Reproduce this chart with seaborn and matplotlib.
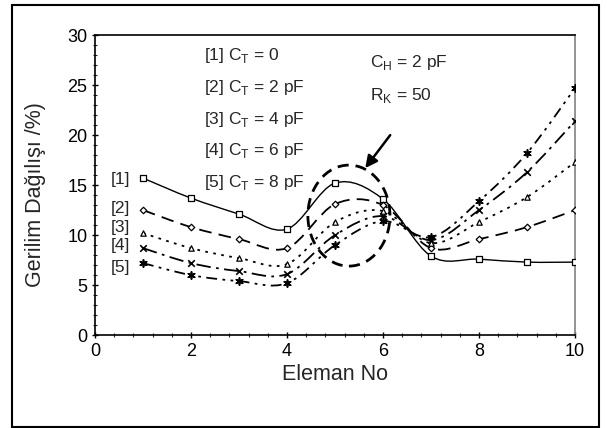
import numpy as np
import matplotlib
matplotlib.use("Agg")
import matplotlib.pyplot as plt
import seaborn as sns
from matplotlib.path import Path
from matplotlib.patches import PathPatch, Ellipse, Rectangle

# values
eleman = [1, 2, 3, 4, 5, 6, 7, 8, 9, 10]
ct0 = [15.7, 13.7, 12.1, 10.6, 15.2, 13.6, 7.9, 7.6, 7.3, 7.3]
ct2 = [12.5, 10.8, 9.6, 8.7, 13.1, 13.0, 8.7, 9.6, 10.8, 12.5]
ct4 = [10.2, 8.7, 7.7, 7.1, 11.3, 12.4, 9.2, 11.3, 13.8, 17.3]
ct6 = [8.7, 7.2, 6.4, 6.1, 10.0, 11.9, 9.5, 12.5, 16.3, 21.4]
ct8 = [7.2, 6.0, 5.4, 5.2, 9.0, 11.4, 9.8, 13.4, 18.2, 24.7]

series = [ct0, ct2, ct4, ct6, ct8]
tags = ["[1]", "[2]", "[3]", "[4]", "[5]"]
legend_lines = [r"[1] C$_\mathregular{T}$ = 0", r"[2] C$_\mathregular{T}$ = 2 pF",
                r"[3] C$_\mathregular{T}$ = 4 pF", r"[4] C$_\mathregular{T}$ = 6 pF",
                r"[5] C$_\mathregular{T}$ = 8 pF"]

markers = ["s", "D", "^", "x", (6, 2, 0)]
msizes = [16, 11, 15, 22, 26]
dashes = [None, (7, 4), (1.5, 3), (8, 3, 1.5, 3), (6, 3, 1.5, 3, 1.5, 3)]

sns.set_theme(style="white")
plt.rcParams["font.family"] = ["Liberation Sans", "DejaVu Sans"]
plt.rcParams["mathtext.fontset"] = "custom"
plt.rcParams["mathtext.rm"] = "Liberation Sans"

fig = plt.figure(figsize=(6.07, 4.28), dpi=100)
ax = fig.add_axes([0.1565, 0.217, 0.7908, 0.701])


def smooth_path(x, y):
    # Excel-style smoothed line: cubic bezier segments through the points
    pts = np.column_stack([x, y]).astype(float)
    n = len(pts)
    verts = [pts[0]]
    codes = [Path.MOVETO]
    for i in range(n - 1):
        p0 = pts[i - 1] if i > 0 else pts[i]
        p1 = pts[i]
        p2 = pts[i + 1]
        p3 = pts[i + 2] if i + 2 < n else pts[i + 1]
        c1 = p1 + (p2 - p0) / 6.0
        c2 = p2 - (p3 - p1) / 6.0
        verts += [c1, c2, p2]
        codes += [Path.CURVE4] * 3
    return Path(verts, codes)


for vals, mk, ms, ds in zip(series, markers, msizes, dashes):
    patch = PathPatch(smooth_path(eleman, vals), fill=False, edgecolor="black",
                      lw=1.0 if ds is None else 1.3, zorder=2)
    if ds is not None:
        patch.set_linestyle((0, ds))
    ax.add_patch(patch)
    filled = mk in ("x", (6, 2, 0))
    sns.scatterplot(x=eleman, y=vals, marker=mk, s=ms, ax=ax, zorder=3,
                    facecolor="black" if filled else "white",
                    edgecolor="black", linewidth=0.9 if not filled else 1.2,
                    color="black", legend=False)

# highlight ellipse and arrow
ax.add_patch(Ellipse((5.29, 11.95), 1.71, 10.1, fill=False, edgecolor="black",
                     lw=2.0, linestyle=(0, (4, 2.5)), zorder=4))
ax.annotate("", xy=(5.63, 16.7), xytext=(6.15, 20.0),
            arrowprops=dict(arrowstyle="-|>", color="black", lw=1.8,
                            mutation_scale=18, shrinkA=0, shrinkB=0))

# text annotations
leg_y = [28.0, 24.8, 21.6, 18.5, 15.3]
for txt, yy in zip(legend_lines, leg_y):
    ax.text(2.27, yy, txt, fontsize=12.5, va="center", ha="left")
ax.text(5.73, 27.3, r"C$_\mathregular{H}$ = 2 pF", fontsize=12.5, va="center")
ax.text(5.73, 24.0, r"R$_\mathregular{K}$ = 50", fontsize=12.5, va="center")

tag_y = [15.6, 12.7, 10.8, 9.0, 6.8]
for t, yy in zip(tags, tag_y):
    ax.text(0.73, yy, t, fontsize=12.5, va="center", ha="right")

ax.set_xlim(0, 10)
ax.set_ylim(0, 30)
ax.set_xticks(range(0, 11, 2))
ax.set_yticks(range(0, 31, 5))
ax.set_xticks(np.arange(0, 10.01, 0.4), minor=True)
ax.set_yticks(range(0, 31), minor=True)
ax.tick_params(axis="both", which="major", labelsize=13, length=4,
               direction="inout", width=1, colors="black")
ax.tick_params(axis="both", which="minor", length=3, direction="inout", width=0.8)
ax.tick_params(left=True, bottom=True, which="both")
ax.set_xlabel("Eleman No", fontsize=15.5, labelpad=3)
ax.set_ylabel("Gerilim Dağılışı /%)", fontsize=15.5, labelpad=10)
ax.yaxis.set_label_coords(-0.102, 0.47)

for side in ["left", "bottom", "top"]:
    ax.spines[side].set_color("black")
    ax.spines[side].set_linewidth(1.2)
ax.spines["right"].set_color("#808080")
ax.spines["right"].set_linewidth(1.2)

# outer chart border
fig.patches.append(Rectangle((0.0198, 0.003), 0.967, 0.985, transform=fig.transFigure,
                             fill=False, edgecolor="black", lw=1.5))

fig.savefig("out.png", dpi=100)
